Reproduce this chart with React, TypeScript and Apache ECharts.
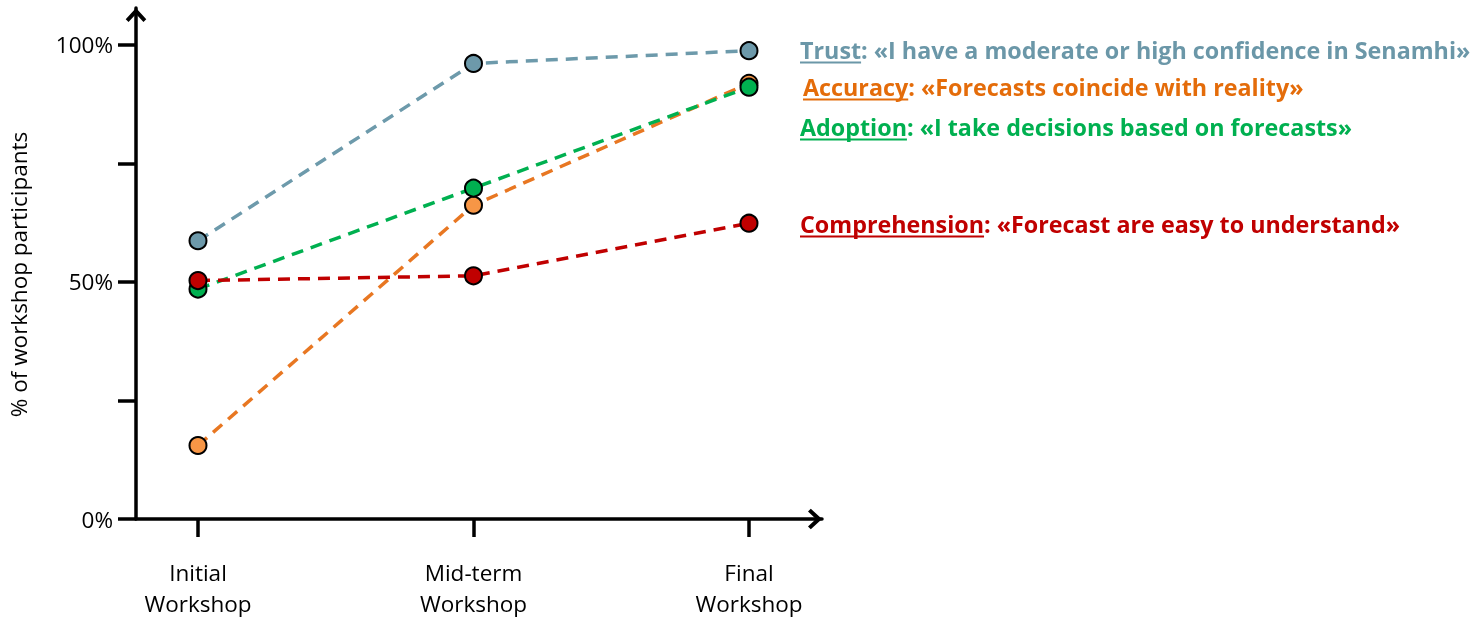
import React, { useEffect, useRef } from "react";
import * as echarts from "echarts";

const categories = ["Initial\nWorkshop", "Mid-term\nWorkshop", "Final\nWorkshop"];
const trust = [58.7, 96.1, 98.8];
const accuracy = [15.5, 66.2, 91.9];
const adoption = [48.5, 69.8, 91.1];
const comprehension = [50.3, 51.3, 62.4];
const yTicks = [0, 25, 50, 75, 100];
const yLabels = [0, 50, 100];

const legendItems = [
  { key: "Trust", rest: ": «I have a moderate or high confidence in Senamhi»", color: "#6B97A8" },
  { key: "Accuracy", rest: ": «Forecasts coincide with reality»", color: "#E46C0A" },
  { key: "Adoption", rest: ": «I take decisions based on forecasts»", color: "#00B050" },
  { key: "Comprehension", rest: ": «Forecast are easy to understand»", color: "#C00000" },
];

const FONT = "Open Sans";
const ARROW = "path://M0,12 L11,0 L22,12 L19,15 L11,6.5 L3,15 Z";

export default function App() {
  const ref = useRef<HTMLDivElement>(null);
  useEffect(() => {
    if (!ref.current) return;
    const chart = echarts.init(ref.current, undefined, { renderer: "svg" });
    const ctx = document.createElement("canvas").getContext("2d")!;
    const fs = 23.3;
    ctx.font = `bold ${fs}px "${FONT}"`;
    const legendPos = [
      { x: 800, y: 50 },
      { x: 803, y: 87 },
      { x: 800, y: 127 },
      { x: 800, y: 224 },
    ];
    const graphics: any[] = [];
    legendItems.forEach((it, i) => {
      const p = legendPos[i];
      const w = ctx.measureText(it.key).width;
      graphics.push({
        type: "text",
        x: p.x,
        y: p.y,
        style: { text: it.key, fill: it.color, font: `bold ${fs}px "${FONT}"`, verticalAlign: "middle" },
      });
      graphics.push({
        type: "text",
        x: p.x + w,
        y: p.y,
        style: { text: it.rest, fill: it.color, font: `bold ${fs}px "${FONT}"`, verticalAlign: "middle" },
      });
      graphics.push({
        type: "rect",
        shape: { x: p.x, y: p.y + 11.5, width: w, height: 2 },
        style: { fill: it.color },
      });
    });

    const mk = (name: string, vals: number[], line: string, fill: string) => ({
      name,
      type: "line",
      data: vals.map((v, i) => [i, v]),
      symbol: "circle",
      symbolSize: 17,
      lineStyle: { color: line, width: 3.5, type: [12, 8] },
      itemStyle: { color: fill, borderColor: "#000", borderWidth: 2 },
    });

    chart.setOption({
      animation: false,
      grid: { left: 136, right: 656, top: 8, bottom: 100, outerBoundsMode: "none" },
      xAxis: {
        type: "value",
        min: -0.225,
        max: 2.265,
        splitLine: { show: false },
        axisLine: {
          onZero: false,
          lineStyle: { color: "#000", width: 3.5 },
          symbol: ["none", ARROW],
          symbolSize: [22, 14],
          symbolOffset: [0, -7],
        },
        axisTick: { show: true, customValues: [0, 1, 2], length: 18, lineStyle: { color: "#000", width: 3.5 } },
        axisLabel: {
          customValues: [0, 1, 2],
          formatter: (v: number) => categories[Math.round(v)],
          fontFamily: FONT,
          fontSize: 22.5,
          lineHeight: 31,
          color: "#000",
          margin: 38,
        },
      },
      yAxis: {
        type: "value",
        min: 0,
        max: 107.8,
        splitLine: { show: false },
        name: "% of workshop participants",
        nameLocation: "middle",
        nameRotate: 90,
        nameGap: 106,
        nameTextStyle: { fontFamily: FONT, fontSize: 22.5, color: "#000", padding: [0, 22, 0, 0] },
        axisLine: {
          onZero: false,
          lineStyle: { color: "#000", width: 3.5 },
          symbol: ["none", ARROW],
          symbolSize: [22, 14],
          symbolOffset: [0, -7],
        },
        axisTick: { show: true, customValues: yTicks, length: 18, lineStyle: { color: "#000", width: 3.5 } },
        axisLabel: {
          customValues: yLabels,
          formatter: (v: number) => `${v}%`,
          fontFamily: FONT,
          fontSize: 22.5,
          color: "#000",
          margin: 23,
        },
      },
      series: [
        mk("Trust", trust, "#6D9AAB", "#6D99AA"),
        mk("Accuracy", accuracy, "#E87722", "#F79646"),
        mk("Adoption", adoption, "#00B050", "#00B050"),
        mk("Comprehension", comprehension, "#C00000", "#C00000"),
      ],
      graphic: graphics,
    });
    return () => chart.dispose();
  }, []);
  return <div ref={ref} style={{ position: "fixed", left: 0, top: 0, width: 1478, height: 619 }} />;
}
